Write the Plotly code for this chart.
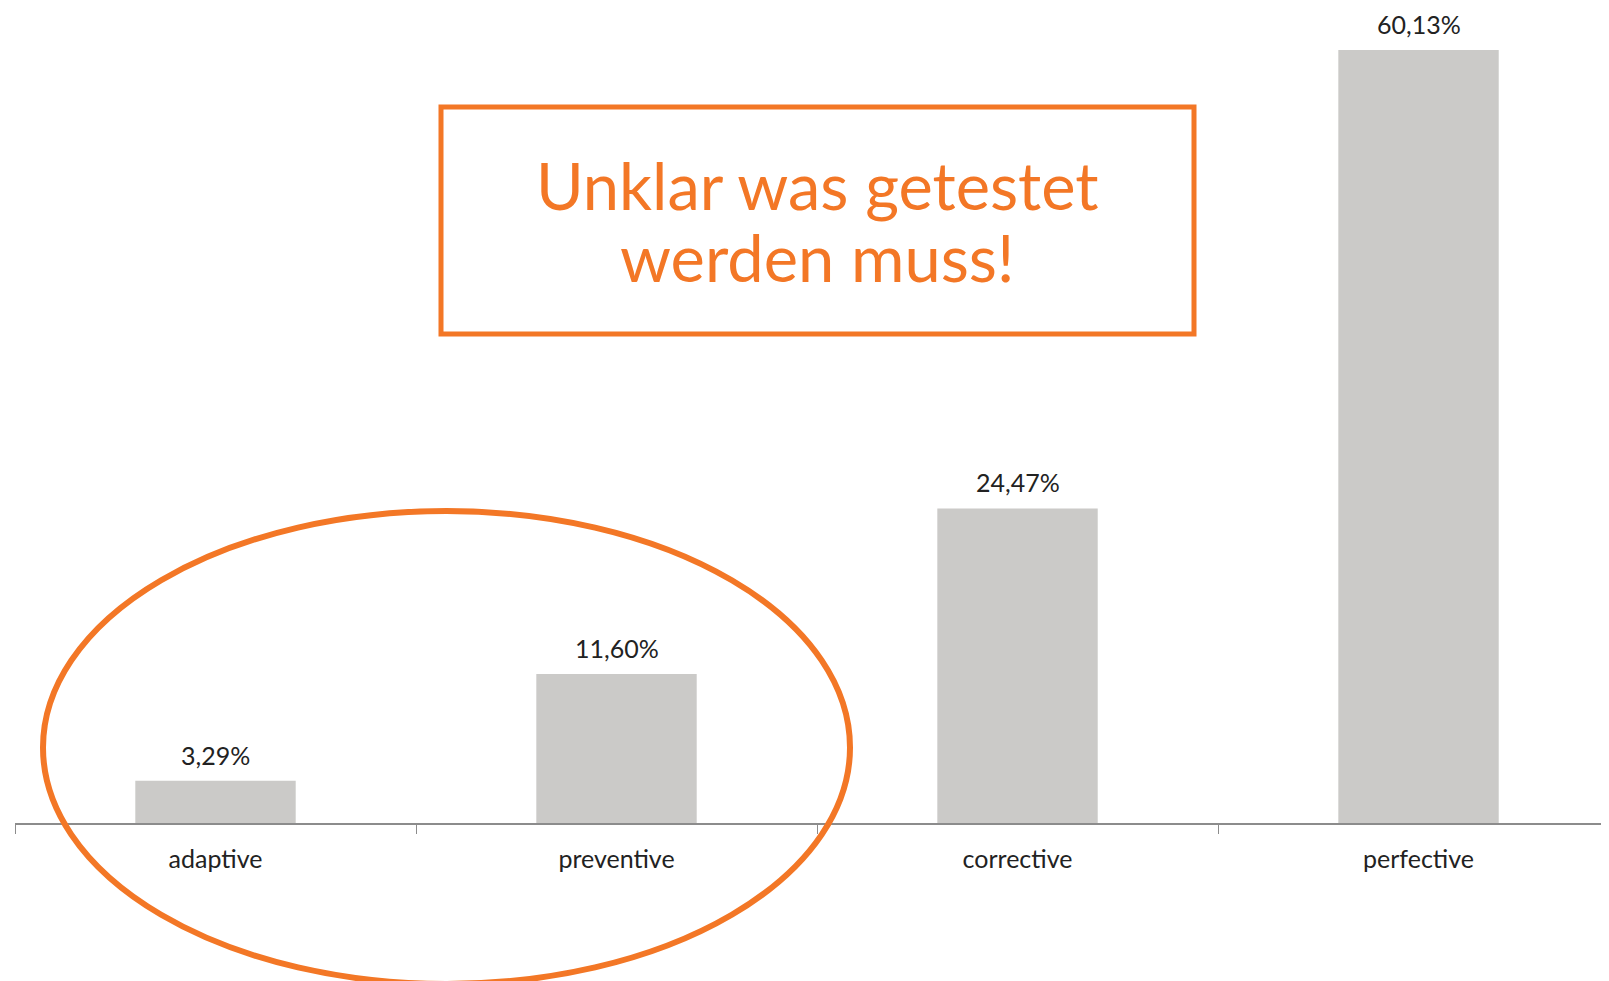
import plotly.graph_objects as go

categories = ["adaptive", "preventive", "corrective", "perfective"]
values = [3.29, 11.60, 24.47, 60.13]
value_labels = [f"{v:.2f}".replace(".", ",") + "%" for v in values]
box_lines = ["Unklar was getestet", "werden muss!"]

# page has an 8px body margin; figure coordinates = page coordinates - 8
OFF = 8
W, H = 1609 - OFF, 981 - OFF
ML = 15 - OFF
AXIS_Y = 823 - OFF
MB = H - AXIS_Y
ORANGE = "#F37726"

fig = go.Figure()
fig.add_trace(go.Bar(
    x=categories, y=values, width=0.4,
    marker=dict(color="#CBCAC8", line=dict(width=0)),
    hoverinfo="skip",
))

for c, v, t in zip(categories, values, value_labels):
    fig.add_annotation(x=c, y=v, text=t, showarrow=False, yanchor="bottom",
                       yshift=10, borderpad=0,
                       font=dict(family="Lato", size=25, color="#222222"))

pw = W - ML
ph = AXIS_Y
def px(x):
    return (x - OFF - ML) / pw
def py(y):
    return (ph - (y - OFF)) / ph

# orange box
fig.add_shape(type="rect", xref="paper", yref="paper",
              x0=px(441), x1=px(1194), y0=py(107), y1=py(334),
              line=dict(color=ORANGE, width=5), layer="above")
fig.add_annotation(xref="paper", yref="paper", x=px(817), y=py(185), text=box_lines[0],
                   xanchor="center", yanchor="middle",
                   showarrow=False, font=dict(family="Lato", size=65, color=ORANGE))
fig.add_annotation(xref="paper", yref="paper", x=px(817), y=py(257), text=box_lines[1],
                   xanchor="center", yanchor="middle",
                   showarrow=False, font=dict(family="Lato", size=65, color=ORANGE))

# orange ellipse
fig.add_shape(type="circle", xref="paper", yref="paper",
              x0=px(43), x1=px(850), y0=py(511), y1=py(984),
              line=dict(color=ORANGE, width=6), layer="above")

fig.update_layout(
    width=W, height=H,
    margin=dict(l=ML, r=0, t=0, b=MB),
    paper_bgcolor="white", plot_bgcolor="white",
    showlegend=False,
    xaxis=dict(range=[-0.5, 3.475], showline=True, linecolor="#8C8C8C", linewidth=2,
               ticks="outside", tickson="boundaries", ticklen=9, tickcolor="#8C8C8C",
               tickwidth=1, showgrid=False, zeroline=False, ticklabelstandoff=13,
               tickfont=dict(family="Lato", size=25, color="#222222")),
    yaxis=dict(range=[0, 60.13 * AXIS_Y / (823 - 50)], visible=False,
               showgrid=False, zeroline=False),
)

fig.write_html("out.html")
